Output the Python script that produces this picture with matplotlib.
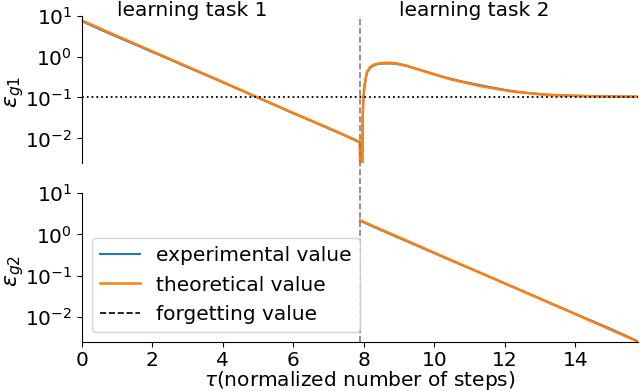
import matplotlib
matplotlib.use("Agg")
import matplotlib.pyplot as plt
from matplotlib.lines import Line2D
from matplotlib.ticker import NullLocator, LogLocator

# ---- data ----
tau_split = 7.9
forget_value = 0.1

# task 1, generalization error on task 1
t1_theo_tau = [0, 1, 2, 3, 4, 5, 6, 7, 7.89]
t1_theo_val = [7.7, 3.2, 1.35, 0.57, 0.24, 0.10, 0.042, 0.018, 0.0082]
t1_exp_tau = [0, 0.5, 1.0, 1.5, 2.0, 2.5, 3.0, 3.5, 4.0, 4.5, 5.0, 5.5, 6.0, 6.5, 7.0, 7.5, 7.89]
t1_exp_val = [7.4, 4.7, 3.05, 2.0, 1.3, 0.85, 0.55, 0.36, 0.235, 0.152, 0.098, 0.064, 0.041,
              0.027, 0.0175, 0.0114, 0.0079]

# task 2, generalization error on task 1 (forgetting)
t2g1_theo_tau = [7.89, 7.90, 7.96, 7.97, 7.99, 8.03, 8.09, 8.18, 8.28, 8.45, 8.67, 8.9, 9.22,
                 9.55, 9.89, 10.45, 11.3, 12.25, 13.19, 14.6, 15.8]
t2g1_theo_val = [0.0082, 0.002, 0.002, 0.03, 0.10, 0.22, 0.42, 0.55, 0.63, 0.69, 0.71, 0.69,
                 0.60, 0.48, 0.39, 0.28, 0.19, 0.138, 0.115, 0.106, 0.104]
t2g1_exp_tau = [7.89, 7.90, 7.96, 7.97, 7.99, 8.03, 8.09, 8.18, 8.28, 8.45, 8.67, 8.9, 9.22,
                9.55, 9.89, 10.2, 10.45, 10.8, 11.3, 11.8, 12.25, 12.7, 13.19, 13.9, 14.6,
                15.2, 15.8]
t2g1_exp_val = [0.0078, 0.002, 0.002, 0.03, 0.10, 0.21, 0.40, 0.53, 0.61, 0.67, 0.68, 0.67,
                0.59, 0.49, 0.40, 0.33, 0.29, 0.245, 0.20, 0.165, 0.142, 0.128, 0.118, 0.111,
                0.108, 0.106, 0.105]

# task 2, generalization error on task 2
t2g2_theo_tau = [7.9, 9, 10, 11, 12, 13, 14, 15, 15.8]
t2g2_theo_val = [2.2, 0.855, 0.362, 0.153, 0.065, 0.0275, 0.0117, 0.0049, 0.00245]
t2g2_exp_tau = [7.9, 8.4, 8.9, 9.4, 9.9, 10.4, 10.9, 11.4, 11.9, 12.4, 12.9, 13.4, 13.9,
                14.4, 14.9, 15.4, 15.8]
t2g2_exp_val = [2.15, 1.38, 0.90, 0.59, 0.385, 0.25, 0.165, 0.109, 0.071, 0.0465, 0.0305,
                0.0198, 0.0129, 0.0085, 0.0056, 0.0036, 0.0025]

BLUE = "#1f77b4"
ORANGE = "#ff7f0e"
FS = 14.5

plt.rcParams["font.family"] = ["DejaVu Sans"]
fig = plt.figure(figsize=(6.4, 3.91), dpi=100)
W, H = 640, 391
left = 81.7 / W
right = 638 / W
ax1 = fig.add_axes([left, 1 - 163 / H, right - left, (163 - 15.7) / H])
ax2 = fig.add_axes([left, 1 - 341.7 / H, right - left, (341.7 - 193.3) / H])
axw = 638 - 81.7

for ax in (ax1, ax2):
    ax.set_yscale("log")
    ax.set_ylim(2.5e-3, 10)
    ax.set_xlim(0, 15.78)
    ax.spines["top"].set_visible(False)
    ax.spines["right"].set_visible(False)
    ax.yaxis.set_major_locator(LogLocator(base=10, numticks=10))
    ax.yaxis.set_minor_locator(NullLocator())
    ax.tick_params(labelsize=FS)

# top
ax1.plot(t1_exp_tau, t1_exp_val, color=BLUE, lw=1.5)
ax1.plot(t2g1_exp_tau, t2g1_exp_val, color=BLUE, lw=1.5)
ax1.plot(t1_theo_tau, t1_theo_val, color=ORANGE, lw=1.8)
ax1.plot(t2g1_theo_tau, t2g1_theo_val, color=ORANGE, lw=1.8)
ax1.axhline(forget_value, color="black", ls=":", lw=1.3)
gap = (193.3 - 163) / (163 - 15.7)
ax1.axvline(tau_split, ymin=-gap, ymax=1, color="grey", ls="--", lw=1.2, clip_on=False)
ax1.spines["bottom"].set_visible(False)
ax1.set_xticks([])
ax1.set_ylabel(r"$\epsilon_{g1}$", fontsize=16)
ax1.yaxis.set_label_coords((26 - 81.7) / axw, 0.48)
ax1.text(1.0, 10, "learning task 1", fontsize=FS, va="baseline", ha="left")
ax1.text(9.0, 10, "learning task 2", fontsize=FS, va="baseline", ha="left")

# bottom
ax2.plot(t2g2_exp_tau, t2g2_exp_val, color=BLUE, lw=1.5)
ax2.plot(t2g2_theo_tau, t2g2_theo_val, color=ORANGE, lw=1.8)
ax2.axvline(tau_split, color="grey", ls="--", lw=1.2)
ax2.set_xticks([0, 2, 4, 6, 8, 10, 12, 14])
ax2.set_ylabel(r"$\epsilon_{g2}$", fontsize=16)
ax2.yaxis.set_label_coords((26 - 81.7) / axw, 0.48)
ax2.set_xlabel(r"$\tau$(normalized number of steps)", fontsize=FS)
ax2.xaxis.set_label_coords(0.5, (341.7 - 369.5) / 148.4)

handles = [Line2D([], [], color=BLUE, lw=1.5),
           Line2D([], [], color=ORANGE, lw=1.8),
           Line2D([], [], color="black", ls="--", lw=1.2)]
ax2.legend(handles, ["experimental value", "theoretical value", "forgetting value"],
           loc="lower left", fontsize=FS)

fig.savefig("out.png", dpi=100)
